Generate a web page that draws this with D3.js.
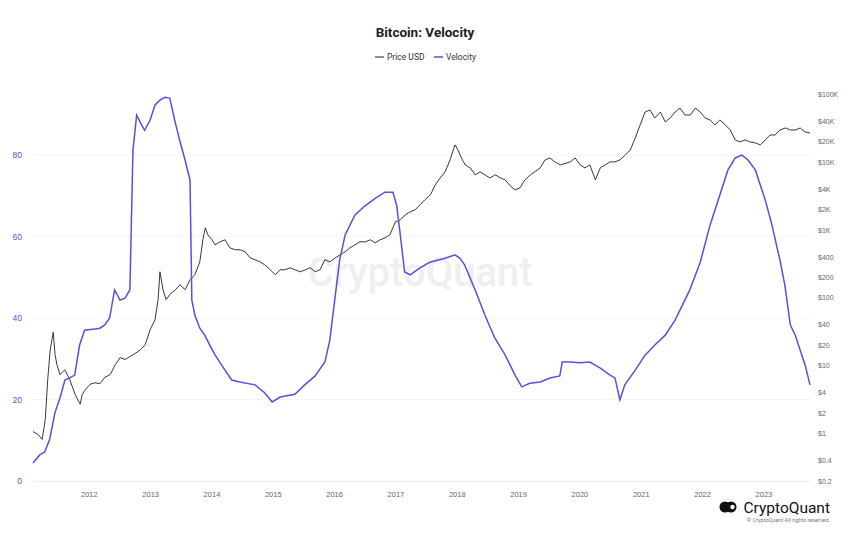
<!DOCTYPE html>
<html><head><meta charset="utf-8">
<script src="https://cdn.jsdelivr.net/npm/d3@7"></script>
<style>body{margin:0;background:#fff}svg{display:block;font-family:"Helvetica Neue",Roboto,Arial,sans-serif}</style>
</head><body>
<svg id="c" width="850" height="535"></svg>
<script>
const yearTicks=[2012,2013,2014,2015,2016,2017,2018,2019,2020,2021,2022,2023];
const leftTicks=[0,20,40,60,80];
const rightTicks=[0.2,0.4,1,2,4,10,20,40,100,200,400,1000,2000,4000,10000,20000,40000,100000];
const rightLabels=["$0.2","$0.4","$1","$2","$4","$10","$20","$40","$100","$200","$400","$1K","$2K","$4K","$10K","$20K","$40K","$100K"];
const velYears=[2011.09,2011.20,2011.28,2011.36,2011.45,2011.53,2011.61,2011.69,2011.77,2011.85,2011.93,2012.10,2012.18,2012.26,2012.34,2012.42,2012.51,2012.59,2012.67,2012.72,2012.78,2012.86,2012.91,2013.00,2013.08,2013.16,2013.24,2013.32,2013.40,2013.48,2013.57,2013.65,2013.68,2013.73,2013.81,2013.89,2013.97,2014.06,2014.22,2014.33,2014.46,2014.71,2014.87,2014.99,2015.12,2015.36,2015.52,2015.69,2015.85,2015.93,2016.01,2016.09,2016.18,2016.34,2016.50,2016.67,2016.83,2016.96,2017.02,2017.07,2017.15,2017.24,2017.40,2017.56,2017.81,2017.97,2018.05,2018.13,2018.30,2018.46,2018.62,2018.79,2018.95,2019.06,2019.19,2019.36,2019.52,2019.68,2019.72,2019.85,2020.01,2020.17,2020.25,2020.34,2020.50,2020.58,2020.66,2020.74,2020.91,2021.07,2021.23,2021.40,2021.56,2021.80,2021.97,2022.13,2022.29,2022.42,2022.54,2022.65,2022.75,2022.87,2022.95,2023.03,2023.14,2023.27,2023.35,2023.44,2023.52,2023.60,2023.68,2023.76];
const velValues=[4.4,6.4,7.1,10.1,16.9,20.4,24.8,25.3,26,33.4,37,37.3,37.5,38.3,40,46.9,44.4,44.9,46.9,81.2,89.8,87.4,86.1,88.6,92.3,93.5,94.2,94,88.6,83.7,78.8,73.9,44.4,40.7,37.5,35.8,33.4,30.9,27.2,24.8,24.3,23.6,21.6,19.4,20.6,21.3,23.6,25.8,29.2,34.6,44.4,54.2,60.4,65.3,67.5,69.4,70.9,70.9,67.7,61.6,51.3,50.6,52.3,53.7,54.7,55.5,54.7,53,46.9,40.7,35.1,30.9,26,23.1,24,24.3,25.3,25.8,29.2,29.2,29,29.2,28.5,27.7,26,25.3,19.9,23.6,27.2,30.9,33.4,35.8,39.5,46.9,53.7,62.8,70.2,76.3,79.3,80,78.8,76.3,72.6,69,62.8,54.2,48.1,38.3,35.8,32.1,28.5,23.6];
const priceYears=[2011.09,2011.17,2011.24,2011.29,2011.33,2011.37,2011.42,2011.45,2011.48,2011.53,2011.61,2011.69,2011.78,2011.86,2011.89,2011.94,2012.02,2012.10,2012.18,2012.26,2012.35,2012.43,2012.51,2012.59,2012.67,2012.75,2012.84,2012.92,2013.00,2013.08,2013.13,2013.16,2013.21,2013.26,2013.32,2013.41,2013.49,2013.57,2013.65,2013.73,2013.81,2013.86,2013.90,2013.94,2014.01,2014.06,2014.14,2014.22,2014.30,2014.39,2014.47,2014.55,2014.63,2014.71,2014.79,2014.87,2014.96,2015.04,2015.12,2015.20,2015.28,2015.36,2015.45,2015.53,2015.61,2015.69,2015.77,2015.85,2015.93,2016.02,2016.10,2016.18,2016.26,2016.34,2016.42,2016.51,2016.59,2016.67,2016.75,2016.83,2016.91,2017.00,2017.08,2017.16,2017.24,2017.32,2017.40,2017.48,2017.57,2017.65,2017.73,2017.81,2017.89,2017.97,2018.02,2018.09,2018.14,2018.22,2018.30,2018.38,2018.46,2018.54,2018.63,2018.71,2018.79,2018.87,2018.95,2019.03,2019.11,2019.20,2019.36,2019.44,2019.52,2019.60,2019.69,2019.85,2019.93,2020.01,2020.09,2020.17,2020.26,2020.34,2020.42,2020.50,2020.58,2020.66,2020.75,2020.83,2020.91,2020.99,2021.07,2021.15,2021.23,2021.32,2021.40,2021.48,2021.56,2021.64,2021.72,2021.81,2021.89,2021.97,2022.05,2022.13,2022.21,2022.29,2022.38,2022.46,2022.54,2022.62,2022.70,2022.78,2022.87,2022.95,2023.03,2023.11,2023.19,2023.27,2023.36,2023.44,2023.52,2023.60,2023.68,2023.76];
const priceValues=[1.07,0.97,0.82,1.6,6.2,17,31,14.5,10.3,7.4,8.7,6.2,3.7,2.7,3.7,4.4,5.3,5.6,5.4,6.7,7.4,10.3,13.1,12.3,13.6,15,17,20.4,33.8,47.5,94,241,131,94,111,131,155,131,184,218,338,713,1070,845,713,601,666,713,543,508,508,475,387,362,338,305,258,218,258,258,276,258,241,258,276,241,258,362,338,387,429,475,543,601,666,666,713,644,713,763,845,1312,1404,1662,1840,1968,2332,2762,3272,4590,5820,7130,10700,17800,15000,10700,9030,8160,6440,7130,6440,5820,6440,5820,5440,4440,3870,4150,5440,6440,8160,10700,11450,10000,9030,10000,11450,9030,8160,9030,5440,8160,9030,10000,10000,10700,12680,15000,22500,35000,54300,58200,44400,54300,38700,44400,54300,62200,49100,49100,62200,54300,44400,41500,35000,41500,35000,29500,21100,19700,21100,19700,19000,17800,21100,24900,24900,29500,31600,29500,29500,31600,27600,26700];

const PURPLE="#5b4ee0";
const svg=d3.select("#c");
const x=d3.scaleLinear().domain([2011.09,2023.76]).range([33,810]);
const yL=d3.scaleLinear().domain([0,95]).range([481,94]);
const yR=d3.scaleLog().domain([0.2,100000]).range([481,94]);

svg.append("g").selectAll("line").data(leftTicks).join("line")
 .attr("x1",33).attr("x2",810).attr("y1",d=>yL(d)).attr("y2",d=>yL(d))
 .attr("stroke","#f4f4f4").attr("stroke-width",1);

svg.append("text").attr("x",420).attr("y",286).attr("text-anchor","middle")
 .attr("font-size",40).attr("fill","#efefef").attr("font-weight",500).text("CryptoQuant");

const xa=svg.append("g").attr("transform","translate(0,481)")
 .call(d3.axisBottom(x).tickValues(yearTicks).tickFormat(d3.format("d")).tickSize(0).tickPadding(11));
xa.select(".domain").attr("stroke","#eee");
xa.selectAll("text").attr("fill","#666").attr("font-size",7.5);

const la=svg.append("g").attr("transform","translate(26,0)")
 .call(d3.axisLeft(yL).tickValues(leftTicks).tickSize(0).tickPadding(4));
la.select(".domain").remove();
la.selectAll("text").attr("fill",PURPLE).attr("font-size",8.5);

const ra=svg.append("g").attr("transform","translate(816,0)")
 .call(d3.axisRight(yR).tickValues(rightTicks).tickFormat((d,i)=>rightLabels[i]).tickSize(0).tickPadding(2));
ra.select(".domain").remove();
ra.selectAll("text").attr("fill","#666").attr("font-size",7);

const vel=velYears.map((t,i)=>[t,velValues[i]]);
const price=priceYears.map((t,i)=>[t,priceValues[i]]);
svg.append("path").datum(price).attr("fill","none").attr("stroke","#222").attr("stroke-width",0.9)
 .attr("d",d3.line().x(d=>x(d[0])).y(d=>yR(d[1])));
svg.append("path").datum(vel).attr("fill","none").attr("stroke",PURPLE).attr("stroke-width",1.5)
 .attr("d",d3.line().x(d=>x(d[0])).y(d=>yL(d[1])));

svg.append("text").attr("x",425).attr("y",37).attr("text-anchor","middle").attr("font-size",13.5)
 .attr("font-weight","bold").attr("fill","#222").text("Bitcoin: Velocity");
const lg=svg.append("g").attr("font-size",8.5).attr("fill","#333");
lg.append("line").attr("x1",375).attr("x2",384).attr("y1",57).attr("y2",57).attr("stroke","#222");
lg.append("text").attr("x",387).attr("y",60).text("Price USD");
lg.append("line").attr("x1",434).attr("x2",443).attr("y1",57).attr("y2",57).attr("stroke",PURPLE).attr("stroke-width",1.5);
lg.append("text").attr("x",446).attr("y",60).text("Velocity");

const f=svg.append("g");
f.append("circle").attr("cx",725).attr("cy",507).attr("r",5.5).attr("fill","#111");
f.append("circle").attr("cx",731).attr("cy",507).attr("r",5.5).attr("fill","#111");
f.append("circle").attr("cx",732.5).attr("cy",507).attr("r",2.2).attr("fill","#fff");
f.append("text").attr("x",830).attr("y",513).attr("text-anchor","end").attr("font-size",15.5).attr("fill","#111").text("CryptoQuant");
f.append("text").attr("x",830).attr("y",522).attr("text-anchor","end").attr("font-size",5.5).attr("fill","#777").text("© CryptoQuant All rights reserved.");
</script>
</body></html>
